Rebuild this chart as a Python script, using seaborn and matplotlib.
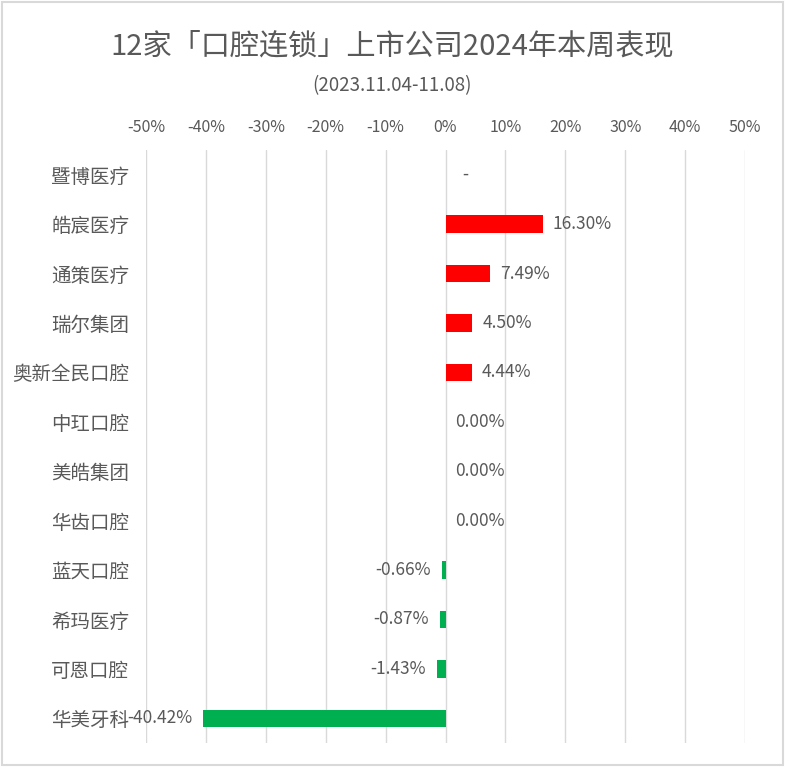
import numpy as np
import pandas as pd
import matplotlib
matplotlib.use("Agg")
import matplotlib.pyplot as plt
import seaborn as sns
from matplotlib.ticker import FuncFormatter

# Data (weekly change, %)
companies = ["暨博医疗", "皓宸医疗", "通策医疗", "瑞尔集团", "奥新全民口腔", "中玒口腔",
             "美皓集团", "华齿口腔", "蓝天口腔", "希玛医疗", "可恩口腔", "华美牙科"]
changes = [np.nan, 16.30, 7.49, 4.50, 4.44, 0.00, 0.00, 0.00, -0.66, -0.87, -1.43, -40.42]
tick_values = [-50, -40, -30, -20, -10, 0, 10, 20, 30, 40, 50]

df = pd.DataFrame({"company": companies, "change": changes})
df["sign"] = np.where(df["change"] < 0, "neg", "pos")

sns.set_theme(style="white")
plt.rcParams["font.family"] = ["Noto Sans CJK SC", "DejaVu Sans"]
text_color = "#595959"

fig = plt.figure(figsize=(7.85, 7.67), dpi=100)
ax = fig.add_axes([146 / 785, 1 - 743 / 767, (745 - 146) / 785, (743 - 150) / 767])

sns.barplot(data=df, x="change", y="company", hue="sign",
            palette={"pos": "#FF0000", "neg": "#00B050"}, saturation=1,
            dodge=False, width=0.35, legend=False, ax=ax, orient="h", linewidth=0)

ax.set_xlim(-50, 50)
ax.set_ylim(11.5, -0.5)
ax.set_xticks(tick_values)
ax.xaxis.set_major_formatter(FuncFormatter(lambda v, p: f"{v:.0f}%"))
ax.xaxis.tick_top()
ax.tick_params(axis="x", length=0, pad=10, labelsize=11.5, labelcolor=text_color)
ax.tick_params(axis="y", length=0, pad=12, labelsize=14, labelcolor=text_color)
ax.set_xlabel("")
ax.set_ylabel("")
ax.grid(axis="x", color="#D9D9D9", linewidth=1)
ax.grid(axis="y", visible=False)
ax.set_axisbelow(True)
for s in ax.spines.values():
    s.set_visible(False)

# value labels
for i, v in enumerate(changes):
    if np.isnan(v):
        ax.annotate("-", (0, i), xytext=(12, 0), textcoords="offset points",
                    ha="left", va="center", fontsize=12.5, color=text_color)
    elif v < 0:
        ax.annotate(f"{v:.2f}%", (v, i), xytext=(-8, 0), textcoords="offset points",
                    ha="right", va="center", fontsize=12.5, color=text_color)
    else:
        ax.annotate(f"{v:.2f}%", (v, i), xytext=(7, 0), textcoords="offset points",
                    ha="left", va="center", fontsize=12.5, color=text_color)

fig.text(0.5, 1 - 46 / 767, "12家「口腔连锁」上市公司2024年本周表现",
         ha="center", va="center", fontsize=21, color=text_color)
fig.text(0.5, 1 - 86 / 767, "(2023.11.04-11.08)",
         ha="center", va="center", fontsize=13.5, color=text_color)

# light border around the chart area
fig.patches.append(plt.Rectangle((0.002, 0.002), 0.996, 0.996, transform=fig.transFigure,
                                 fill=False, edgecolor="#D9D9D9", linewidth=1.5))

fig.savefig("out.png", dpi=100)
